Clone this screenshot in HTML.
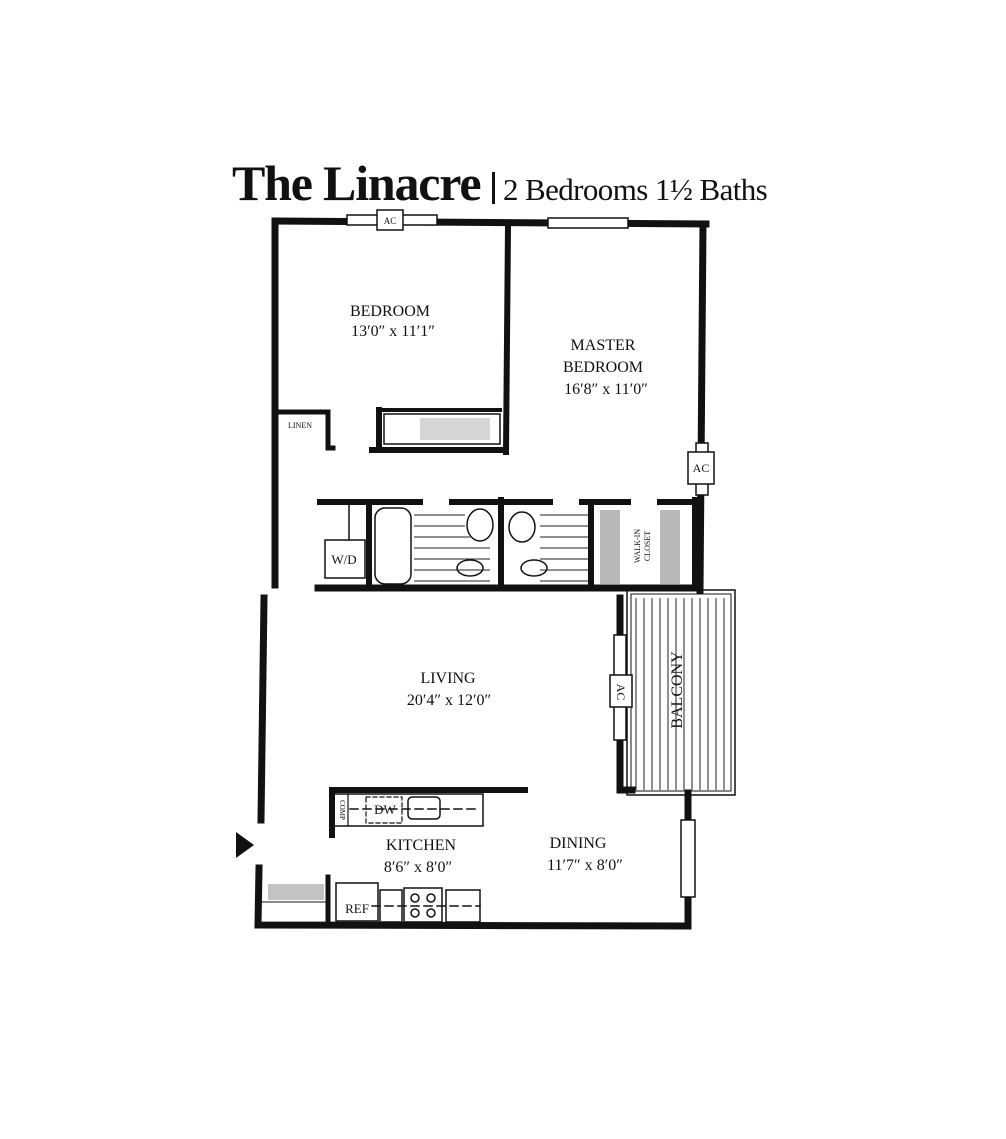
<!DOCTYPE html>
<html><head><meta charset="utf-8"><style>
html,body{margin:0;padding:0;background:#fff;}
svg{display:block;}
text{font-family:"Liberation Serif",serif;fill:#111;}
</style></head><body>
<svg width="1006" height="1139" viewBox="0 0 1006 1139" xmlns="http://www.w3.org/2000/svg">
<rect width="1006" height="1139" fill="#fff"/>
<!-- title -->
<text x="232" y="200" font-size="50" font-weight="bold" letter-spacing="-1.2">The Linacre</text>
<rect x="492" y="172" width="3" height="32" fill="#111"/>
<text x="503" y="200" font-size="31" letter-spacing="-0.6">2 Bedrooms 1½ Baths</text>

<g stroke="#111" fill="none" stroke-linecap="square">
<path d="M275 221 L706 224" stroke-width="7"/>
<path d="M275 221 L275 585" stroke-width="7"/>
<path d="M264 598 L261 820" stroke-width="7"/>
<path d="M259 868 L258 925 L688 926 L688 793" stroke-width="7"/>
<path d="M703 224 L700 590" stroke-width="7"/>
<path d="M508 226 L506 452" stroke-width="6"/>
<path d="M372 450 L506 450" stroke-width="6"/>
<path d="M379 410 L379 450" stroke-width="6"/>
<path d="M379 410 L500 410" stroke-width="4"/>
<rect x="384" y="414" width="116" height="30" stroke-width="1.5"/>
<path d="M277 412 L328 412 L328 448 L333 448" stroke-width="5"/>
<path d="M320 502 L420 502 M452 502 L550 502 M582 502 L628 502 M660 502 L700 502" stroke-width="6"/>
<path d="M318 588 L700 588" stroke-width="7"/>
<path d="M369 502 L369 588 M501 500 L501 588 M591 502 L591 588 M695 500 L695 588" stroke-width="6"/>
<rect x="325" y="540" width="40" height="38" stroke-width="1.5"/>
<path d="M349 505 L349 540" stroke-width="1.5"/>
<rect x="375" y="508" width="36" height="76" rx="10" stroke-width="1.5"/>
<ellipse cx="480" cy="525" rx="13" ry="16" stroke-width="1.5"/>
<ellipse cx="522" cy="527" rx="13" ry="15" stroke-width="1.5"/>
<ellipse cx="470" cy="568" rx="13" ry="8" stroke-width="1.5"/>
<ellipse cx="534" cy="568" rx="13" ry="8" stroke-width="1.5"/>
<path d="M332 835 L332 790 L525 790" stroke-width="6"/>
<rect x="334" y="794" width="149" height="32" stroke-width="1.5"/>
<path d="M348 794 L348 826" stroke-width="1.2"/>
<rect x="366" y="797" width="36" height="26" stroke-width="1.2" stroke-dasharray="4 3"/>
<rect x="408" y="797" width="32" height="22" rx="4" stroke-width="1.5"/>
<path d="M350 809 L480 809" stroke-width="1.5" stroke-dasharray="8 5"/>
<path d="M328 877 L328 925" stroke-width="5"/>
<rect x="336" y="883" width="42" height="38" stroke-width="1.5"/>
<rect x="380" y="890" width="22" height="32" stroke-width="1.5"/>
<rect x="404" y="888" width="38" height="34" stroke-width="1.5"/>
<rect x="446" y="890" width="34" height="32" stroke-width="1.5"/>
<circle cx="415" cy="898" r="4" stroke-width="1.5"/><circle cx="431" cy="898" r="4" stroke-width="1.5"/>
<circle cx="415" cy="913" r="4" stroke-width="1.5"/><circle cx="431" cy="913" r="4" stroke-width="1.5"/>
<path d="M372 906 L480 906" stroke-width="1.5" stroke-dasharray="8 5"/>
<path d="M262 902 L326 902" stroke-width="1"/>
<path d="M620 598 L620 790 L632 790" stroke-width="7"/>
<rect x="627" y="590" width="108" height="205" stroke-width="1.5"/>
<rect x="631" y="594" width="100" height="197" stroke-width="1"/>
<rect x="347" y="215" width="90" height="10" fill="#fff" stroke-width="1.5"/>
<rect x="377" y="210" width="26" height="20" fill="#fff" stroke-width="1.5"/>
<rect x="548" y="218" width="80" height="10" fill="#fff" stroke-width="1.5"/>
<rect x="696" y="443" width="12" height="52" fill="#fff" stroke-width="1.5"/>
<rect x="688" y="452" width="26" height="32" fill="#fff" stroke-width="1.5"/>
<rect x="614" y="635" width="12" height="105" fill="#fff" stroke-width="1.5"/>
<rect x="610" y="675" width="22" height="32" fill="#fff" stroke-width="1.5"/>
<rect x="681" y="820" width="14" height="77" fill="#fff" stroke-width="1.5"/>
</g>
<g stroke="#222" stroke-width="1">
<path d="M636 598 V790 M644 598 V790 M652 598 V790 M660 598 V790 M668 598 V790 M676 598 V790 M684 598 V790 M692 598 V790 M700 598 V790 M708 598 V790 M716 598 V790 M724 598 V790"/>
<path d="M414 515 H465 M414 526 H465 M414 537 H470 M414 548 H490 M414 559 H490 M414 570 H490 M414 581 H490 M540 515 H588 M540 526 H588 M540 537 H588 M540 548 H588 M540 559 H588 M540 570 H588 M540 581 H588"/>
</g>
<g fill="#888">
<rect x="600" y="510" width="20" height="74" opacity="0.6"/>
<rect x="660" y="510" width="20" height="74" opacity="0.6"/>
<rect x="268" y="884" width="56" height="16" opacity="0.5"/>
<rect x="420" y="418" width="70" height="22" opacity="0.35"/>
</g>
<polygon points="236,832 254,845 236,858" fill="#111"/>
<g font-size="16" text-anchor="middle">
<text x="390" y="316">BEDROOM</text>
<text x="393" y="336">13′0″ x 11′1″</text>
<text x="603" y="350">MASTER</text>
<text x="603" y="372">BEDROOM</text>
<text x="606" y="394">16′8″ x 11′0″</text>
<text x="448" y="683">LIVING</text>
<text x="449" y="705">20′4″ x 12′0″</text>
<text x="421" y="850">KITCHEN</text>
<text x="418" y="872">8′6″ x 8′0″</text>
<text x="578" y="848">DINING</text>
<text x="585" y="870">11′7″ x 8′0″</text>
</g>
<g font-size="13" text-anchor="middle">
<text x="344" y="564">W/D</text>
<text x="357" y="913">REF</text>
<text x="385" y="814">DW</text>
</g>
<text x="300" y="428" font-size="8" text-anchor="middle">LINEN</text>
<text x="390" y="224" font-size="9" text-anchor="middle">AC</text>
<text x="701" y="472" font-size="12" text-anchor="middle">AC</text>
<text x="621" y="696" font-size="12" text-anchor="middle" transform="rotate(90 621 692)">AC</text>
<text x="682" y="690" font-size="16" text-anchor="middle" transform="rotate(-90 682 690)">BALCONY</text>
<text x="640" y="546" font-size="8" text-anchor="middle" transform="rotate(-90 640 546)">WALK-IN</text>
<text x="650" y="546" font-size="8" text-anchor="middle" transform="rotate(-90 650 546)">CLOSET</text>
<text x="340" y="810" font-size="7" text-anchor="middle" transform="rotate(90 340 810)">COMP</text>
</svg>
</body></html>
